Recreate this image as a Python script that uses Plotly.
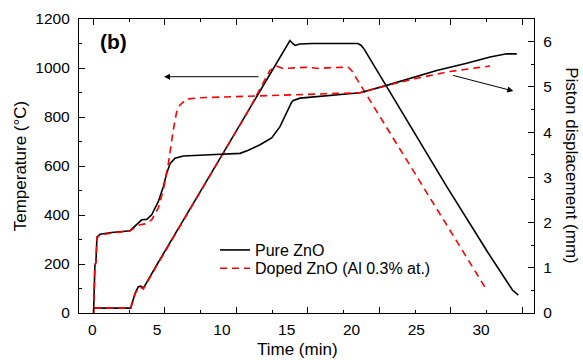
import plotly.graph_objects as go

# ---------------- data (time in minutes, as labelled on the x axis) ----------------
time_pure_T = [0.15, 2.96, 3.3, 3.55, 3.76, 3.94, 4.3, 4.97, 8.0, 12.0, 14.5, 15.0, 15.25,
               15.5, 15.65, 16.0, 17.0, 20.5, 20.75, 21.0, 24.26, 27.35, 30.56, 31.8, 32.4, 32.87]
temp_pure = [20, 20, 80, 107, 110, 101, 134, 196, 466, 823, 1046, 1091, 1112,
             1098, 1092, 1098, 1100, 1100, 1092, 1075, 788, 516, 244, 140, 95, 73]

time_dope_T = [0.15, 2.96, 3.3, 3.55, 3.76, 3.94, 4.3, 4.97, 8.0, 12.0, 13.7, 14.2, 14.7,
               15.5, 16.5, 17.5, 18.5, 19.75, 20.0, 30.28]
temp_dope = [20, 20, 78, 102, 104, 98, 131, 193, 464, 822, 990, 1008, 998,
             1000, 1003, 998, 1002, 1003, 990, 107]

time_pure_D = [0.1, 0.2, 0.28, 0.36, 0.6, 1.5, 2.92, 3.42, 3.81, 4.2, 4.58, 5.09, 5.48, 5.74,
               6.0, 6.38, 7.02, 9.08, 11.4, 12.04, 12.94, 13.84, 14.48, 15.38, 15.51, 16.03,
               18.6, 20.66, 22.45, 24.51, 26.57, 28.89, 30.69, 31.98, 32.75]
disp_pure = [0, 1.05, 1.12, 1.68, 1.74, 1.78, 1.82, 1.95, 2.06, 2.07, 2.17, 2.46, 2.79, 3.09,
             3.30, 3.42, 3.47, 3.50, 3.53, 3.60, 3.72, 3.87, 4.12, 4.66, 4.70, 4.75,
             4.82, 4.87, 5.01, 5.19, 5.36, 5.52, 5.66, 5.73, 5.73]

time_dope_D = [0.1, 0.2, 0.28, 0.36, 0.6, 1.5, 2.92, 3.68, 4.07, 4.58, 5.09, 5.48, 5.87, 6.25,
               6.51, 6.77, 7.28, 8.31, 11.4, 15.51, 20.66, 22.45, 25.03, 27.6, 30.69]
disp_dope = [0, 1.05, 1.12, 1.66, 1.73, 1.77, 1.82, 1.95, 1.97, 2.06, 2.32, 2.72, 3.31, 4.05,
             4.45, 4.60, 4.73, 4.76, 4.79, 4.82, 4.87, 5.01, 5.19, 5.34, 5.46]

x_tick_labels = [0, 5, 10, 15, 20, 25, 30]
temp_ticks = [0, 200, 400, 600, 800, 1000, 1200]
disp_ticks = [0, 1, 2, 3, 4, 5, 6]

names = ["Pure ZnO", "Doped ZnO (Al 0.3% at.)"]

# ---------------- figure ----------------
FONT = "Liberation Sans, Arial, sans-serif"
black_line = dict(color="black", width=1.6)
red_line = dict(color="#ff0000", width=1.6, dash="7px,5px")

fig = go.Figure()
fig.add_trace(go.Scatter(x=time_pure_T, y=temp_pure, mode="lines", line=black_line,
                         name=names[0], legendgroup="p", legend="legend",
                         xaxis="x", yaxis="y"))
fig.add_trace(go.Scatter(x=time_dope_T, y=temp_dope, mode="lines", line=red_line,
                         name=names[1], legendgroup="d", legend="legend2",
                         xaxis="x", yaxis="y"))
fig.add_trace(go.Scatter(x=time_pure_D, y=disp_pure, mode="lines", line=black_line,
                         name=names[0], legendgroup="p", showlegend=False,
                         xaxis="x", yaxis="y2"))
fig.add_trace(go.Scatter(x=time_dope_D, y=disp_dope, mode="lines", line=red_line,
                         name=names[1], legendgroup="d", showlegend=False,
                         xaxis="x", yaxis="y2"))
# invisible helper so the tick-only overlay axis is drawn
fig.add_trace(go.Scatter(x=[0], y=[0], mode="markers", marker=dict(opacity=0),
                         showlegend=False, hoverinfo="skip", xaxis="x3", yaxis="y"))

tickfont = dict(family=FONT, size=15.5, color="black")
legfont = dict(family=FONT, size=16, color="black")

fig.update_layout(
    width=583, height=360,
    margin=dict(l=79, r=49, t=19, b=47, autoexpand=False),
    paper_bgcolor="white", plot_bgcolor="white",
    font=dict(family=FONT, color="black"),
    showlegend=True,
    legend=dict(x=0.2989, y=0.272, xanchor="left", yanchor="top",
                bgcolor="rgba(0,0,0,0)", font=legfont),
    legend2=dict(x=0.2989, y=0.2099, xanchor="left", yanchor="top",
                 bgcolor="rgba(0,0,0,0)", font=legfont),
    xaxis=dict(range=[-1.026, 34.08], tickvals=x_tick_labels, ticks="", ticklen=0,
               showline=True, linecolor="black", linewidth=1.3, mirror=True,
               showgrid=False, zeroline=False, tickfont=tickfont,
               ticklabelstandoff=2, automargin=False),
    xaxis3=dict(range=[-1.0, 30.82], overlaying="x", anchor="y", side="bottom",
                tickmode="linear", tick0=0, dtick=5, ticks="inside", ticklen=6,
                tickwidth=1.2, tickcolor="black",
                minor=dict(dtick=2.5, tick0=0, ticks="inside", ticklen=3,
                           tickwidth=1.2, tickcolor="black"),
                showticklabels=False, showline=True, linecolor="black",
                linewidth=1.3, mirror="ticks", showgrid=False, zeroline=False,
                automargin=False),
    yaxis=dict(range=[0, 1200], tickvals=temp_ticks, ticks="inside", ticklen=6,
               tickwidth=1.2, tickcolor="black",
               minor=dict(dtick=100, ticks="inside", ticklen=3, tickwidth=1.2,
                          tickcolor="black"),
               showline=True, linecolor="black", linewidth=1.3,
               showgrid=False, zeroline=False, tickfont=tickfont,
               ticklabelstandoff=5, automargin=False),
    yaxis2=dict(range=[0, 6.5], tickvals=disp_ticks, ticks="inside", ticklen=6,
                tickwidth=1.2, tickcolor="black", side="right", overlaying="y",
                anchor="x",
                minor=dict(dtick=0.5, ticks="inside", ticklen=3, tickwidth=1.2,
                           tickcolor="black"),
                showline=True, linecolor="black", linewidth=1.3,
                showgrid=False, zeroline=False, tickfont=tickfont,
                ticklabelstandoff=5, automargin=False),
)

annotations = [
    dict(text="Temperature (°C)", xref="paper", yref="paper", x=-0.129, y=0.5,
         textangle=-90, showarrow=False, font=dict(family=FONT, size=17),
         xanchor="center", yanchor="middle"),
    dict(text="Piston displacement (mm)", xref="paper", yref="paper", x=1.083, y=0.5,
         textangle=90, showarrow=False, font=dict(family=FONT, size=17),
         xanchor="center", yanchor="middle"),
    dict(text="Time (min)", xref="paper", yref="paper", x=0.48, y=-0.125,
         showarrow=False, font=dict(family=FONT, size=17),
         xanchor="center", yanchor="middle"),
    dict(text="<b>(b)</b>", xref="paper", yref="paper", x=0.042, y=0.922,
         showarrow=False, font=dict(family=FONT, size=21),
         xanchor="left", yanchor="middle"),
    # arrow to left axis
    dict(text="", xref="paper", yref="paper", x=0.1868, y=0.8037, ax=96, ay=0,
         showarrow=True, arrowhead=2, arrowsize=1.2, arrowwidth=1, arrowcolor="black"),
    # arrow to right axis
    dict(text="", xref="paper", yref="paper", x=0.9545, y=0.755, ax=-61.6, ay=-16,
         showarrow=True, arrowhead=2, arrowsize=1.2, arrowwidth=1, arrowcolor="black"),
]
fig.update_layout(annotations=annotations)

fig.write_html("out.html", config={"displayModeBar": False},
               post_script="document.body.style.margin='0px';document.body.style.overflow='hidden';")
